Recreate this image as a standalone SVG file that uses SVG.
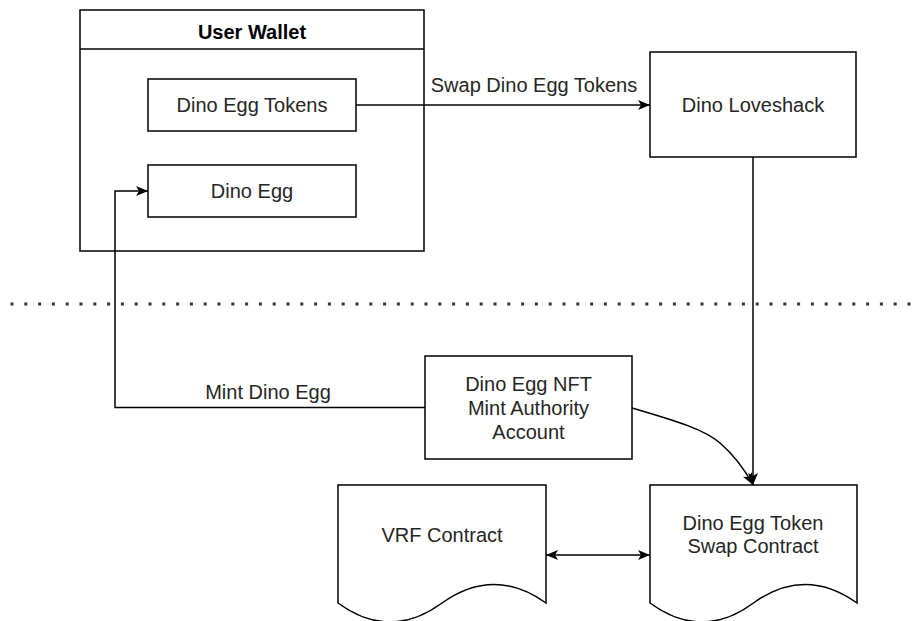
<svg xmlns="http://www.w3.org/2000/svg" width="915" height="621" viewBox="0 0 915 621">
  <style>
    .box { fill: #ffffff; stroke: #000000; stroke-width: 1.5; }
    .edge { fill: none; stroke: #000000; stroke-width: 1.5; }
    .lbl { font-family: "Liberation Sans", Arial, sans-serif; font-size: 20px; fill: #262626; text-anchor: middle; }
    .title { font-weight: bold; fill: #000000; }
    .divider { stroke: #333333; stroke-width: 3; stroke-dasharray: 3 10.8; fill: none; }
  </style>
  <defs>
    <marker id="arrow" viewBox="0 0 12 10" refX="12" refY="5" markerWidth="12" markerHeight="10" markerUnits="userSpaceOnUse" orient="auto-start-reverse">
      <path d="M0,0 L12,5 L0,10 L3,5 Z" fill="#000000"/>
    </marker>
  </defs>
  <rect width="915" height="621" fill="#ffffff"/>

  <!-- dotted boundary -->
  <line class="divider" x1="10.5" y1="304" x2="915" y2="304"/>

  <!-- container -->
  <g id="user-wallet">
    <rect class="box" x="80" y="10" width="344" height="241"/>
    <line class="edge" x1="80" y1="49" x2="424" y2="49"/>
    <text class="lbl title" x="252" y="39">User Wallet</text>
  </g>

  <g id="dino-egg-tokens">
    <rect class="box" x="148" y="79" width="208" height="52"/>
    <text class="lbl" x="252" y="112">Dino Egg Tokens</text>
  </g>

  <g id="dino-egg">
    <rect class="box" x="148" y="165" width="208" height="52"/>
    <text class="lbl" x="252" y="198">Dino Egg</text>
  </g>

  <g id="dino-loveshack">
    <rect class="box" x="650" y="52" width="206" height="105"/>
    <text class="lbl" x="753" y="112">Dino Loveshack</text>
  </g>

  <g id="mint-authority">
    <rect class="box" x="425" y="356" width="207" height="103"/>
    <text class="lbl" x="528.5" y="391">Dino Egg NFT</text>
    <text class="lbl" x="528.5" y="415">Mint Authority</text>
    <text class="lbl" x="528.5" y="439">Account</text>
  </g>

  <g id="vrf-contract">
    <path class="box" d="M338,485 H546 V603 Q494,566 442,603 Q390,641 338,603 Z"/>
    <text class="lbl" x="442" y="542">VRF Contract</text>
  </g>

  <g id="swap-contract">
    <path class="box" d="M650,485 H857 V603 Q805,566 753.5,603 Q702,641 650,603 Z"/>
    <text class="lbl" x="753" y="530">Dino Egg Token</text>
    <text class="lbl" x="753" y="553">Swap Contract</text>
  </g>

  <g id="connectors">
    <!-- token swap request -->
    <line class="edge" x1="356" y1="105" x2="650" y2="105" marker-end="url(#arrow)"/>
    <text class="lbl" x="534" y="92">Swap Dino Egg Tokens</text>
    <!-- loveshack to swap contract -->
    <line class="edge" x1="753" y1="157" x2="753" y2="485" marker-end="url(#arrow)"/>
    <!-- mint authority to swap contract -->
    <path class="edge" d="M632,408 C680,422 705,430 720,443 C735,456 745,470 753,485" marker-end="url(#arrow)"/>
    <!-- mint to wallet -->
    <path class="edge" d="M425,407.5 H115 V191 H148" marker-end="url(#arrow)"/>
    <text class="lbl" x="268" y="399">Mint Dino Egg</text>
    <!-- VRF exchange -->
    <line class="edge" x1="546" y1="555" x2="650" y2="555" marker-start="url(#arrow)" marker-end="url(#arrow)"/>
  </g>
</svg>
